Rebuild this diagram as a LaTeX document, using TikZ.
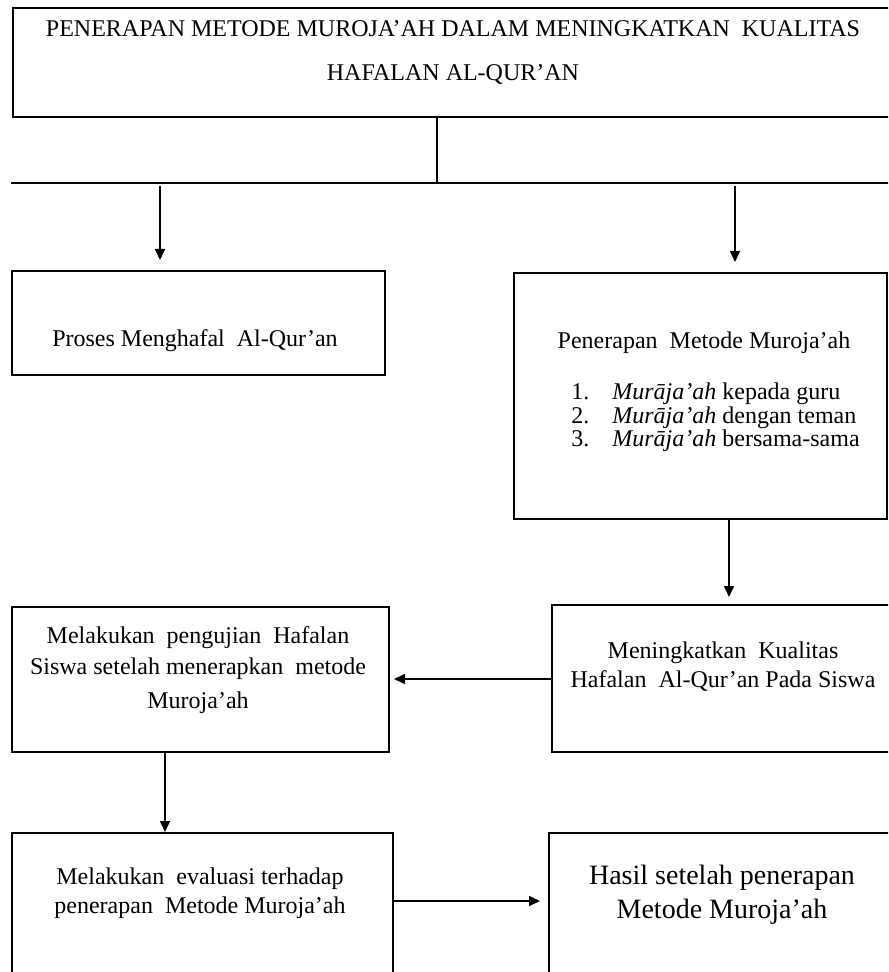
\documentclass[tikz,border=0pt]{standalone}
\usepackage{fontspec}
\setmainfont{Liberation Serif}
\usetikzlibrary{arrows.meta,calc}
\begin{document}
\begin{tikzpicture}[x=0.5pt,y=-0.5pt,
  box/.style={draw, line width=1pt, rectangle, inner sep=0pt, anchor=north west},
  txt/.style={anchor=base, inner sep=0pt, font=\fontsize{12pt}{14pt}\selectfont},
  big/.style={anchor=base, inner sep=0pt, font=\fontsize{14pt}{16pt}\selectfont},
  conn/.style={line width=0.8pt},
  arr/.style={line width=0.8pt, -{Triangle[length=5.5pt,width=5pt]}}]
\useasboundingbox (0,0) rectangle (888,972);
\clip (0,0) rectangle (888,972);
% boxes
\node[box, minimum width=444pt, minimum height=54.5pt] (T) at (12,7) {};
\node[box, minimum width=186.5pt, minimum height=52pt] (A) at (11,270) {};
\node[box, minimum width=186.5pt, minimum height=123pt] (B) at (513,272) {};
\node[box, minimum width=188.5pt, minimum height=72.5pt] (C) at (11,606) {};
\node[box, minimum width=174.5pt, minimum height=73.5pt] (D) at (551,604) {};
\node[box, minimum width=190.5pt, minimum height=84pt] (E) at (11,832) {};
\node[box, minimum width=176pt, minimum height=84pt] (F) at (548,832) {};
% texts
\node[txt] (t1) at (453,37) {PENERAPAN METODE MUROJA’AH DALAM MENINGKATKAN\ \ KUALITAS};
\node[txt] (t2) at (453,81) {HAFALAN AL-QUR’AN};
\node[txt] (a1) at (195,347) {Proses Menghafal\ \ Al-Qur’an};
\node[txt] (b0) at (704,349) {Penerapan\ \ Metode Muroja’ah};
\node[txt, anchor=base west] (n1) at (571,400) {1.};
\node[txt, anchor=base west] (l1) at (612,400) {\textit{Murāja’ah} kepada guru};
\node[txt, anchor=base west] (n2) at (571,423) {2.};
\node[txt, anchor=base west] (l2) at (612,423) {\textit{Murāja’ah} dengan teman};
\node[txt, anchor=base west] (n3) at (571,446) {3.};
\node[txt, anchor=base west] (l3) at (612,446) {\textit{Murāja’ah} bersama-sama};
\node[txt] (c1) at (198,643) {Melakukan\ \ pengujian\ \ Hafalan};
\node[txt] (c2) at (198,674) {Siswa setelah menerapkan\ \ metode};
\node[txt] (c3) at (198,708) {Muroja’ah};
\node[txt] (d1) at (723,658) {Meningkatkan\ \ Kualitas};
\node[txt] (d2) at (723,687) {Hafalan\ \ Al-Qur’an Pada Siswa};
\node[txt] (e1) at (200,884) {Melakukan\ \ evaluasi terhadap};
\node[txt] (e2) at (200,913) {penerapan\ \ Metode Muroja’ah};
\node[big] (f1) at (722,884) {Hasil setelah penerapan};
\node[big] (f2) at (722,918) {Metode Muroja’ah};
% connectors
\coordinate (j) at (437,183);
\coordinate (hl) at (11,183);
\coordinate (hr) at (900,183);
\coordinate (h1) at (160,183);
\coordinate (h2) at (735,183);
\draw[conn] (T.south -| j) -- (j);
\draw[line width=1pt] (hl) -- (hr);
\draw[arr, shorten <=1.5pt, shorten >=5pt] (h1) -- (h1 |- A.north);
\draw[arr, shorten <=1.5pt, shorten >=5pt] (h2) -- (h2 |- B.north);
\coordinate (bx) at (729,0);
\draw[arr, shorten >=3.5pt] (bx |- B.south) -- (bx |- D.north);
\coordinate (dy) at (0,679);
\draw[arr, shorten >=2pt] (D.west |- dy) -- (C.east |- dy);
\coordinate (cx) at (165,0);
\draw[arr] (cx |- C.south) -- (cx |- E.north);
\coordinate (ey) at (0,901);
\draw[arr, shorten >=4pt] (E.east |- ey) -- (F.west |- ey);
\end{tikzpicture}
\end{document}
